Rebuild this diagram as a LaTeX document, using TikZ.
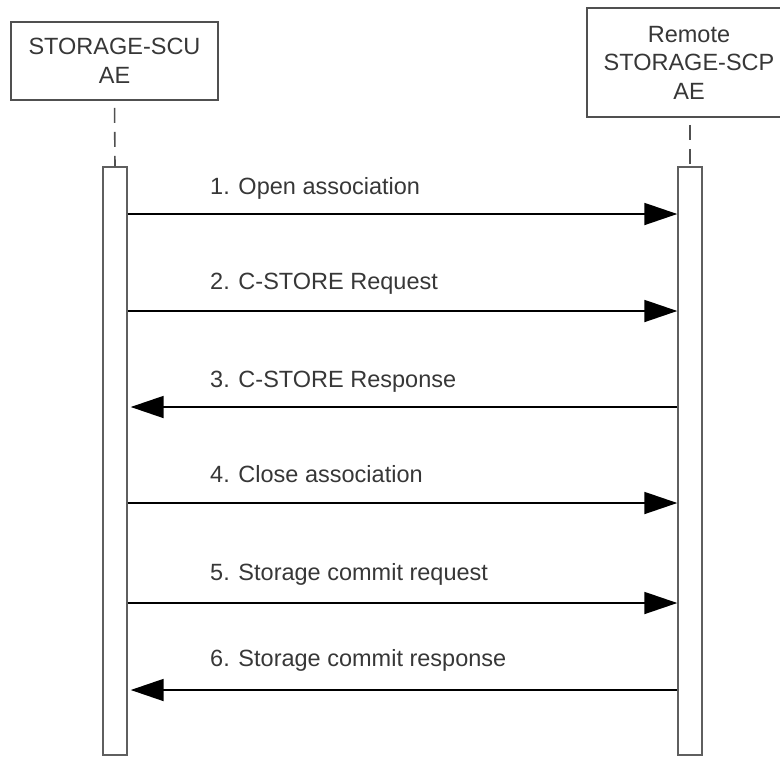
\documentclass[tikz,border=0pt]{standalone}
\usepackage{fontspec}
\setmainfont{Liberation Sans}
\usepackage{tikz}
\usetikzlibrary{arrows.meta, positioning}

\definecolor{boxgray}{RGB}{80,80,80}
\definecolor{bargray}{RGB}{95,95,95}
\definecolor{textgray}{RGB}{55,55,55}

\tikzset{
	actor/.style={draw=boxgray, line width=1.6pt, fill=white, align=center,
		text=textgray, font=\fontsize{23.5}{28.5}\selectfont, inner sep=0pt},
	actbar/.style={draw=bargray, line width=1.4pt, fill=white,
		minimum width=24pt, minimum height=588pt, inner sep=0pt},
	lifeline/.style={draw=boxgray, line width=1.6pt,
		dash pattern=on 15pt off 9pt, dash phase=17pt},
	msg/.style={draw=black, line width=1.8pt, -{Triangle[length=33pt,width=22pt]}},
	msglabel/.style={text=textgray, font=\fontsize{23.5}{28.5}\selectfont,
		anchor=base west, inner sep=0pt}
}

\begin{document}
\begin{tikzpicture}[x=1pt, y=-1pt]
	\clip (0,0) rectangle (780,756);

	\node[actor, minimum width=207pt, minimum height=78pt] (SCU) at (114.5, 61) {STORAGE-SCU\\AE};
	\node[actor, minimum width=204pt, minimum height=109pt] (SCP) at (689, 62.5) {Remote\\STORAGE-SCP\\AE};

	\node[actbar] (SCUbar) at (115, 461) {};
	\node[actbar] (SCPbar) at (690, 461) {};

	\draw[lifeline] (SCU.south) -- (SCUbar.north);
	\draw[lifeline] (SCP.south -| SCPbar.north) -- (SCPbar.north);

	% message rows
	\coordinate (row1) at (0, 214);
	\coordinate (row2) at (0, 311);
	\coordinate (row3) at (0, 407);
	\coordinate (row4) at (0, 503);
	\coordinate (row5) at (0, 603);
	\coordinate (row6) at (0, 690);

	\draw[msg] (SCUbar.east |- row1) -- (SCPbar.west |- row1);
	\draw[msg] (SCUbar.east |- row2) -- (SCPbar.west |- row2);
	\draw[msg] (SCPbar.west |- row3) -- ([xshift=3pt]SCUbar.east |- row3);
	\draw[msg] (SCUbar.east |- row4) -- (SCPbar.west |- row4);
	\draw[msg] (SCUbar.east |- row5) -- (SCPbar.west |- row5);
	\draw[msg] (SCPbar.west |- row6) -- ([xshift=3pt]SCUbar.east |- row6);

	\node[msglabel] (lab1) at (210, 194) {1. Open association};
	\node[msglabel] (lab2) at (210, 289) {2. C-STORE Request};
	\node[msglabel] (lab3) at (210, 387) {3. C-STORE Response};
	\node[msglabel] (lab4) at (210, 482) {4. Close association};
	\node[msglabel] (lab5) at (210, 580) {5. Storage commit request};
	\node[msglabel] (lab6) at (210, 666) {6. Storage commit response};
\end{tikzpicture}
\end{document}
